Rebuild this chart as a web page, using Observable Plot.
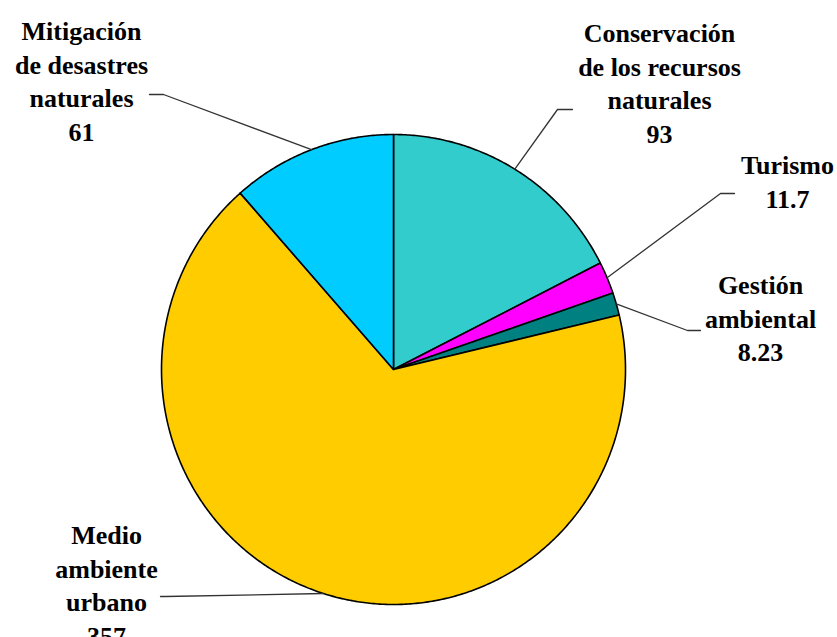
<!DOCTYPE html>
<html>
<head>
<meta charset="utf-8">
<script src="https://cdn.jsdelivr.net/npm/d3@7"></script>
<script src="https://cdn.jsdelivr.net/npm/@observablehq/plot@0.6"></script>
<style>
  html, body { margin: 0; padding: 0; background: #ffffff; font-family: "Liberation Serif", serif; }
  #chart svg { display: block; }
</style>
</head>
<body>
<div id="chart"></div>
<script>
// ---- Data ----
const categories = [
  "Conservación de los recursos naturales",
  "Turismo",
  "Gestión ambiental",
  "Medio ambiente urbano",
  "Mitigación de desastres naturales"
];
const labelLines = [
  ["Conservación", "de los recursos", "naturales"],
  ["Turismo"],
  ["Gestión", "ambiental"],
  ["Medio", "ambiente", "urbano"],
  ["Mitigación", "de desastres", "naturales"]
];
const values = [93, 11.7, 8.23, 357, 61];
const colors = ["#33CCCC", "#FF00FF", "#008080", "#FFCC00", "#00CCFF"];

// ---- Layout (pixel anchors for label first baselines & leader elbows) ----
const W = 837, H = 637;
const cx = 393, cy = 369, rx = 232, ry = 235;
const lineStep = 33.5;
const labelBase = [[659, 35.5], [787, 167.5], [760, 287.5], [106, 537.5], [81, 33.5]];
const elbows   = [[557, 109], [720, 193], [687, 330], [165, 596], [163, 94]];
const ends     = [[572, 109], [734, 193], [700, 330], [160, 596], [149, 94]];

const px2x = p => (p - cx) / rx;
const px2y = p => (p - cy) / ry;

// ---- Build slices ----
const total = d3.sum(values);
const slicePts = [];
const mids = [];
let acc = 0;
values.forEach((v, i) => {
  const a0 = acc / total * 2 * Math.PI;
  acc += v;
  const a1 = acc / total * 2 * Math.PI;
  mids.push((a0 + a1) / 2);
  const name = categories[i];
  slicePts.push({name, x: 0, y: 0});
  const steps = Math.max(2, Math.ceil((a1 - a0) / (Math.PI / 360)));
  for (let k = 0; k <= steps; k++) {
    const a = a0 + (a1 - a0) * k / steps;
    slicePts.push({name, x: Math.sin(a), y: -Math.cos(a)});
  }
  slicePts.push({name, x: 0, y: 0});
});

// leader lines
const leaders = [];
categories.forEach((name, i) => {
  const a = mids[i];
  leaders.push({name, x: Math.sin(a), y: -Math.cos(a)});
  leaders.push({name, x: px2x(elbows[i][0]), y: px2y(elbows[i][1])});
  leaders.push({name, x: px2x(ends[i][0]), y: px2y(ends[i][1])});
});

// label rows (one text per line, baseline-anchored)
const labelRows = [];
categories.forEach((name, i) => {
  const lines = [...labelLines[i], String(values[i])];
  lines.forEach((t, k) => {
    labelRows.push({
      text: t,
      x: px2x(labelBase[i][0]),
      y: px2y(labelBase[i][1] + k * lineStep)
    });
  });
});

const chart = Plot.plot({
  width: W,
  height: H,
  margin: 0,
  x: {type: "linear", domain: [px2x(0), px2x(W)], range: [0, W], axis: null},
  y: {type: "linear", domain: [px2y(0), px2y(H)], range: [0, H], axis: null},
  color: {domain: categories, range: colors},
  style: {background: "#ffffff", fontFamily: "Liberation Serif, serif"},
  marks: [
    Plot.line(slicePts, {x: "x", y: "y", z: "name", fill: "name", stroke: "#000000", strokeWidth: 1.6, strokeLinejoin: "round"}),
    Plot.line(leaders, {x: "x", y: "y", z: "name", stroke: "#333333", strokeWidth: 1.3}),
    Plot.text(labelRows, {
      x: "x", y: "y", text: "text",
      textAnchor: "middle", lineAnchor: "bottom", dy: 6,
      fontSize: 26, fontWeight: "bold",
      fontFamily: "Liberation Serif, serif",
      fill: "#000000"
    })
  ]
});
d3.select(chart).selectAll("text, tspan")
  .style("font-family", "'Liberation Serif', serif")
  .style("font-weight", "bold");
document.getElementById("chart").appendChild(chart);
</script>
</body>
</html>
